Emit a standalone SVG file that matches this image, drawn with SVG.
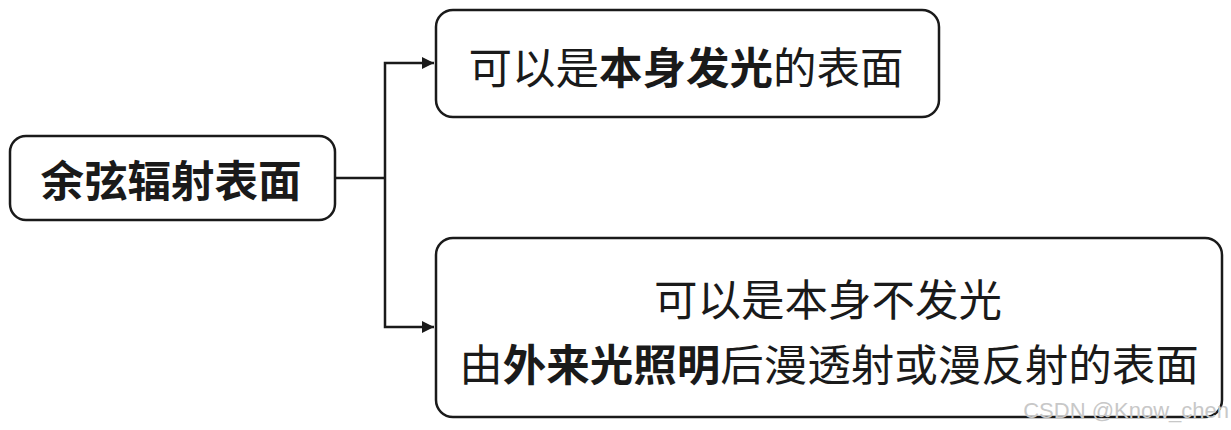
<svg xmlns="http://www.w3.org/2000/svg" width="1231" height="430" viewBox="0 0 1231 430">
<style>
.box{fill:#fff;stroke:#1a1a1a;stroke-width:2.5}
.t{font-family:"Noto Sans CJK SC","Noto Sans",sans-serif;font-size:43.5px;fill:#1a1a1a;text-anchor:middle;dominant-baseline:central}
.b{font-weight:bold}
.c{fill:none;stroke:#1a1a1a;stroke-width:2.5}
.wm{font-family:"Liberation Sans",sans-serif;font-size:22px;fill:#c8c8c8;text-anchor:end}
</style>
<defs>
<marker id="ah" markerWidth="12" markerHeight="12" refX="12" refY="6" orient="auto" markerUnits="userSpaceOnUse">
<path d="M0,0 L12,6 L0,12 Z" fill="#1a1a1a"/>
</marker>
</defs>
<rect width="1231" height="430" fill="#fff"/>
<g id="connectors">
<path class="c" d="M335,178 H385"/>
<path class="c" d="M385,178 V63 H434" marker-end="url(#ah)"/>
<path class="c" d="M385,178 V327 H434" marker-end="url(#ah)"/>
</g>
<g id="root">
<rect class="box" x="10" y="136" width="325" height="84" rx="16"/>
<text class="t b" x="171" y="178">余弦辐射表面</text>
</g>
<g id="n1">
<rect class="box" x="436" y="10" width="503" height="107" rx="17"/>
<text class="t" x="686" y="65">可以是<tspan class="b">本身发光</tspan>的表面</text>
</g>
<g id="n2">
<rect class="box" x="436" y="238" width="786" height="179" rx="17"/>
<text class="t" x="828" y="297">可以是本身不发光</text>
<text class="t" x="829" y="362">由<tspan class="b">外来光照明</tspan>后漫透射或漫反射的表面</text>
</g>
<text class="wm" x="1229" y="418">CSDN @Know_chen</text>
</svg>
